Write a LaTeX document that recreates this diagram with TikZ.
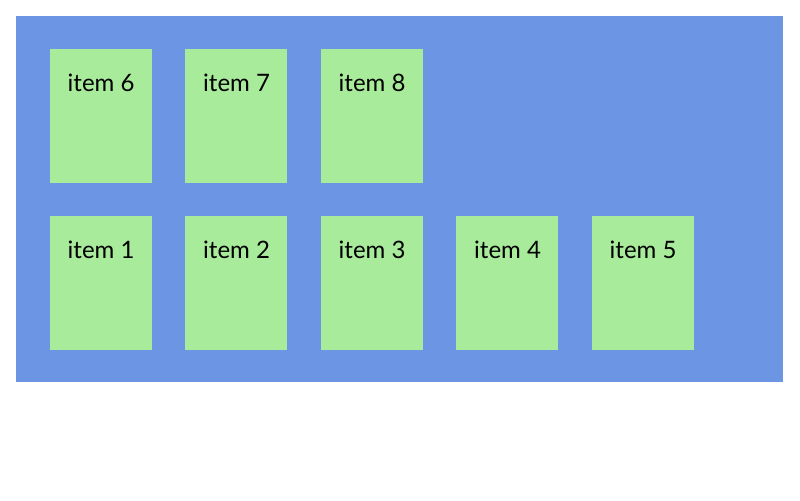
\documentclass[tikz,border=0pt]{standalone}
\usepackage{fontspec}
\setmainfont{Lato}
\definecolor{bgblue}{RGB}{108,149,228}
\definecolor{itemgreen}{RGB}{168,235,154}
\begin{document}
\begin{tikzpicture}[x=0.75pt,y=-0.75pt,
  itembox/.style={fill=itemgreen,draw=none,minimum width=76.5pt,minimum height=100pt,anchor=north west,inner sep=0pt},
  itemlabel/.style={font=\fontsize{18}{20}\selectfont,anchor=base,text=black}]
\useasboundingbox (0,0) rectangle (800,500);
\fill[bgblue] (16,16) rectangle (783,382);
\foreach \n/\x/\y in {6/49.3/49, 7/184.8/49, 8/320.3/49, 1/49.3/216, 2/184.8/216, 3/320.3/216, 4/455.8/216, 5/591.3/216}{
  \node[itembox] (b\n) at (\x,\y) {};
  \node[itemlabel] (t\n) at ([xshift=0.4pt,yshift=-31.5pt]b\n.north) {item \n};
}
\end{tikzpicture}
\end{document}
